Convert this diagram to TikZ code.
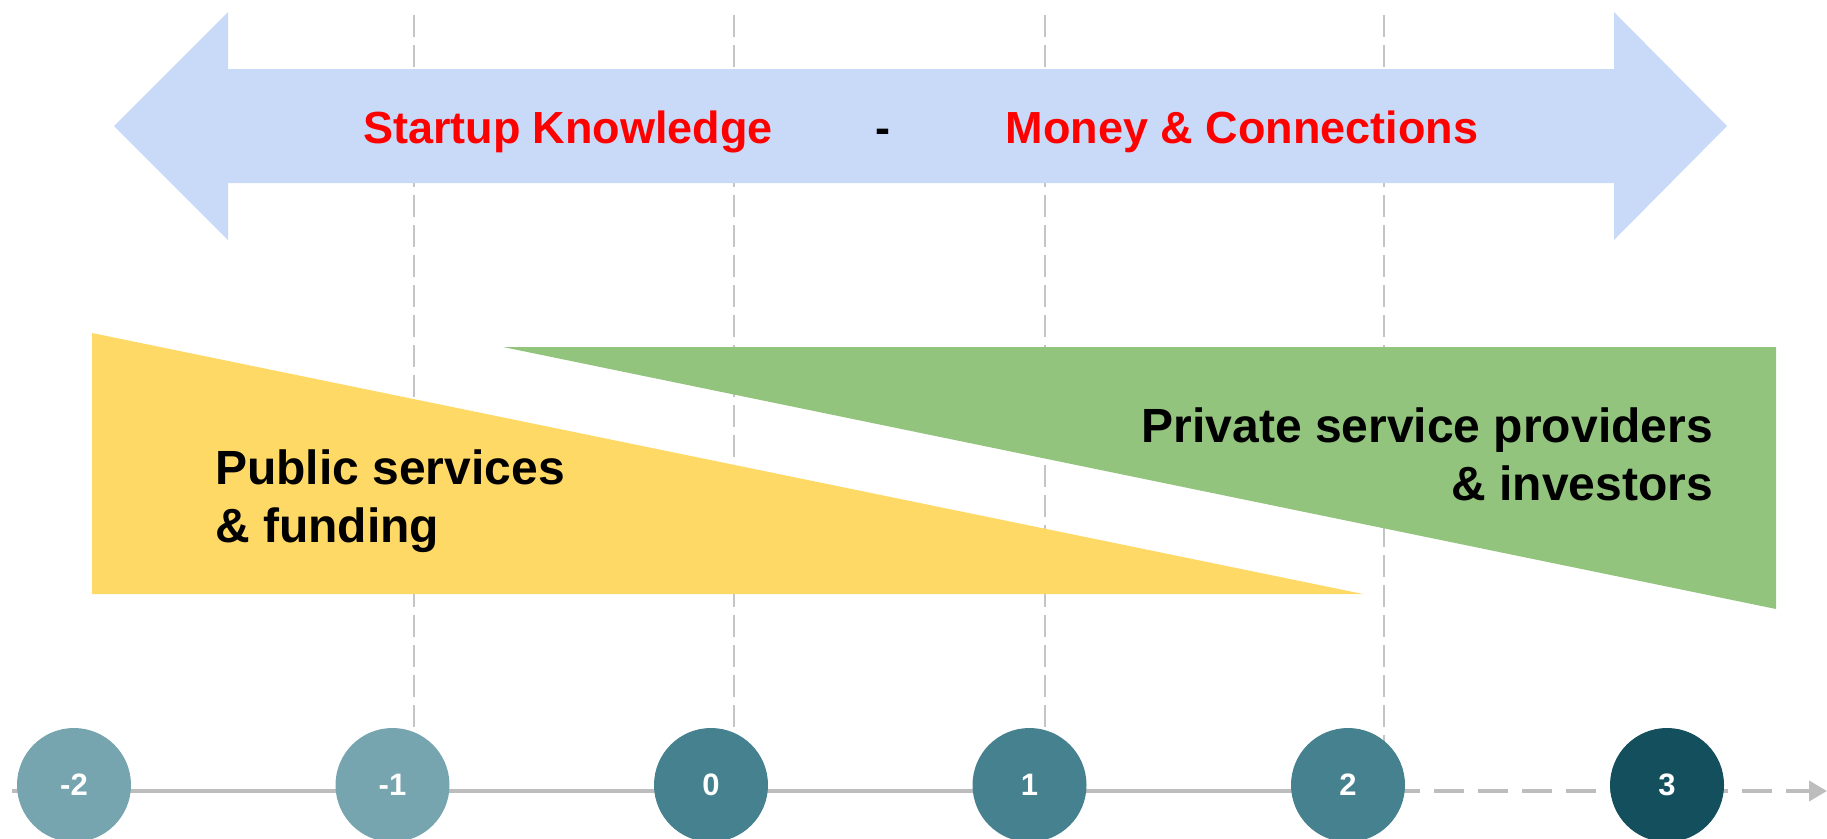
\documentclass[tikz,border=0pt]{standalone}
\usepackage{fontspec}
\setmainfont{Liberation Sans}
\usetikzlibrary{arrows.meta,backgrounds}
\definecolor{arrowblue}{HTML}{C9DAF8}
\definecolor{pubyellow}{HTML}{FFD966}
\definecolor{privgreen}{HTML}{93C47D}
\definecolor{stagelight}{HTML}{76A5AF}
\definecolor{stagemid}{HTML}{45818E}
\definecolor{stagedark}{HTML}{134F5C}
\definecolor{linegray}{HTML}{BDBDBD}
\definecolor{guidegray}{HTML}{C4C4C4}
\begin{document}
\begin{tikzpicture}[x=1pt,y=-1pt,
  stage/.style={circle, minimum size=114pt, inner sep=0pt, text=white, font=\fontsize{31}{31}\selectfont\bfseries},
  bigtext/.style={inner sep=0pt, font=\fontsize{45}{57}\selectfont\bfseries},
  labeltext/.style={inner sep=0pt, font=\fontsize{48}{58}\selectfont\bfseries},
  guide/.style={guidegray, line width=1.5pt, dash pattern=on 22pt off 8pt},
  timeline/.style={linegray, line width=4pt}]
\useasboundingbox (0,0) rectangle (1827,838);

% big double arrow
\fill[arrowblue] (114,126) -- (228,12) -- (228,69) -- (1614,69) -- (1614,12) -- (1727,126)
  -- (1614,240) -- (1614,183) -- (228,183) -- (228,240) -- cycle;

% wedges
\fill[pubyellow] (92,333) -- (1363,594) -- (92,594) -- cycle;
\fill[privgreen] (503,347) -- (1776,347) -- (1776,609) -- cycle;

% texts
\node[bigtext, text=red, anchor=base] (know) at (568,143) {Startup Knowledge};
\node[bigtext, anchor=base] (sep) at (883,143) {-};
\node[bigtext, text=red, anchor=base] (money) at (1242,143) {Money \& Connections};
\node[labeltext, align=left, anchor=north west] (public) at (215,450) {Public services\\\& funding};
\node[labeltext, align=right, anchor=north east] (private) at (1713,408) {Private service providers\\\& investors};

% stages
\node[stage, fill=stagelight] (cm2) at (74,785) {-2};
\node[stage, fill=stagelight] (cm1) at (392.5,785) {-1};
\node[stage, fill=stagemid] (c0) at (711,785) {0};
\node[stage, fill=stagemid] (c1) at (1029.5,785) {1};
\node[stage, fill=stagemid] (c2) at (1348,785) {2};
\node[stage, fill=stagedark] (c3) at (1667,785) {3};

\begin{scope}[on background layer]
  \draw[guide] (414,15) -- (414,745);
  \draw[guide] (734,15) -- (734,745);
  \draw[guide] (1045,15) -- (1045,745);
  \draw[guide] (1384,15) -- (1384,745);
  \coordinate (tlstart) at (12,791);
  \coordinate (tlsplit) at (1420,791);
  \coordinate (tlend) at (1827,791);
  \draw[timeline] (tlstart) -- (tlsplit);
  \draw[timeline, dash pattern=on 30pt off 14pt, dash phase=30pt,
        -{Triangle[length=18pt,width=20pt]}] (tlsplit) -- (tlend);
\end{scope}
\end{tikzpicture}
\end{document}
